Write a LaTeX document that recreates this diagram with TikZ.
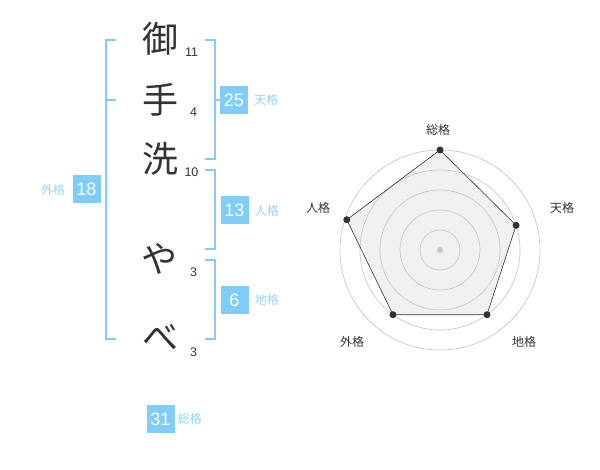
\documentclass[tikz,border=0pt]{standalone}
\usepackage{fontspec}
\setmainfont{Liberation Sans}
\newfontfamily\cjk{Noto Sans CJK JP}
\usepackage{xcolor}
\usepackage{tikz}
\usetikzlibrary{positioning, calc}

\definecolor{kakublue}{RGB}{128,204,250}
\definecolor{inkgray}{RGB}{51,51,51}
\definecolor{ringgray}{RGB}{200,200,200}
\definecolor{areagray}{RGB}{240,240,240}

\begin{document}
\begin{tikzpicture}[x=1pt, y=-1pt,
                % Define styles
                moji/.style={inner sep=0pt, text=inkgray, font=\cjk\fontsize{36}{36}\selectfont},
                kaku/.style={inner sep=0pt, text=inkgray, font=\fontsize{12.5}{13}\selectfont},
                scorebox/.style={rectangle, fill=kakublue, text=white, minimum width=28pt, minimum height=28pt, inner sep=0pt, font=\fontsize{18}{18}\selectfont},
                kakuname/.style={inner sep=0pt, text=kakublue!85, font=\cjk\fontsize{12}{12}\selectfont},
                bracket/.style={draw=kakublue, line width=1.8pt},
                axisname/.style={inner sep=0pt, text=inkgray, font=\cjk\fontsize{12}{12}\selectfont},
                ring/.style={draw=ringgray, line width=0.7pt},
                dot/.style={circle, fill=inkgray, inner sep=0pt, minimum size=7pt}
            ]
            \useasboundingbox (0,0) rectangle (600,470);

            % --- Nodes ---

            % 1. Name characters and stroke counts
            \node [moji] (c1) at (160,39) {御};
            \node [moji] (c2) at (160,100) {手};
            \node [moji] (c3) at (160,159) {洗};
            \node [moji] (c4) at (159,259) {や};
            \node [moji] (c5) at (160,337) {べ};

            \node [kaku] (k1) at (191.5,52) {11};
            \node [kaku] (k2) at (193.5,112) {4};
            \node [kaku] (k3) at (191.5,172) {10};
            \node [kaku] (k4) at (193.5,272) {3};
            \node [kaku] (k5) at (193.5,352) {3};

            % 2. Score boxes
            \node [scorebox] (ten) at (234,100) {25};
            \node [kakuname, right=6pt of ten] (tenname) {天格};
            \node [scorebox] (jin) at (234.5,210.5) {13};
            \node [kakuname, right=6pt of jin] (jinname) {人格};
            \node [scorebox] (chi) at (234.5,300) {6};
            \node [kakuname, right=6pt of chi] (chiname) {地格};
            \node [scorebox] (gai) at (86.5,189.5) {18};
            \node [kakuname, left=7pt of gai] (gainame) {外格};
            \node [scorebox] (sou) at (160.5,419) {31};
            \node [kakuname, right=3pt of sou] (souname) {総格};

            % --- Brackets ---
            \coordinate (gtop) at (106,40);
            \coordinate (gbot) at (106,339);
            \draw [bracket] ($(gtop)+(10,0)$) -- (gtop) -- (gbot) -- ++(10,0);
            \draw [bracket] (106,100) -- ++(10,0);

            \coordinate (ttop) at (215,40);
            \coordinate (tbot) at (215,159);
            \draw [bracket] ($(ttop)+(-10,0)$) -- (ttop) -- (tbot) -- ++(-10,0);
            \draw [bracket] (215,100) -- (ten.west);

            \coordinate (jtop) at (215,170);
            \coordinate (jbot) at (215,249);
            \draw [bracket] ($(jtop)+(-10,0)$) -- (jtop) -- (jbot) -- ++(-10,0);

            \coordinate (ctop) at (215,260);
            \coordinate (cbot) at (215,339);
            \draw [bracket] ($(ctop)+(-10,0)$) -- (ctop) -- (cbot) -- ++(-10,0);

            % --- Radar chart ---
            \begin{scope}[shift={(440,250)}, x=1pt, y=1pt]
                \coordinate (o) at (0,0);
                \coordinate (psou) at (90:100);
                \coordinate (pten) at (18:80);
                \coordinate (pchi) at (-54:80);
                \coordinate (pgai) at (-126:80);
                \coordinate (pjin) at (162:98);

                \fill [areagray] (psou) -- (pten) -- (pchi) -- (pgai) -- (pjin) -- cycle;
                \foreach \r in {20,40,...,100}
                    \draw [ring] (o) circle (\r);
                \fill [ringgray] (o) circle (3);
                \draw [inkgray, line width=0.6pt] (psou) -- (pten) -- (pchi) -- (pgai) -- (pjin) -- cycle;
                \foreach \p in {psou,pten,pchi,pgai,pjin}
                    \node [dot] at (\p) {};

                \node [axisname] (asou) at (-2,120) {総格};
                \node [axisname] (aten) at (122,42) {天格};
                \node [axisname] (achi) at (84,-92) {地格};
                \node [axisname] (agai) at (-88,-92) {外格};
                \node [axisname] (ajin) at (-122,42) {人格};
            \end{scope}

        \end{tikzpicture}
\end{document}
